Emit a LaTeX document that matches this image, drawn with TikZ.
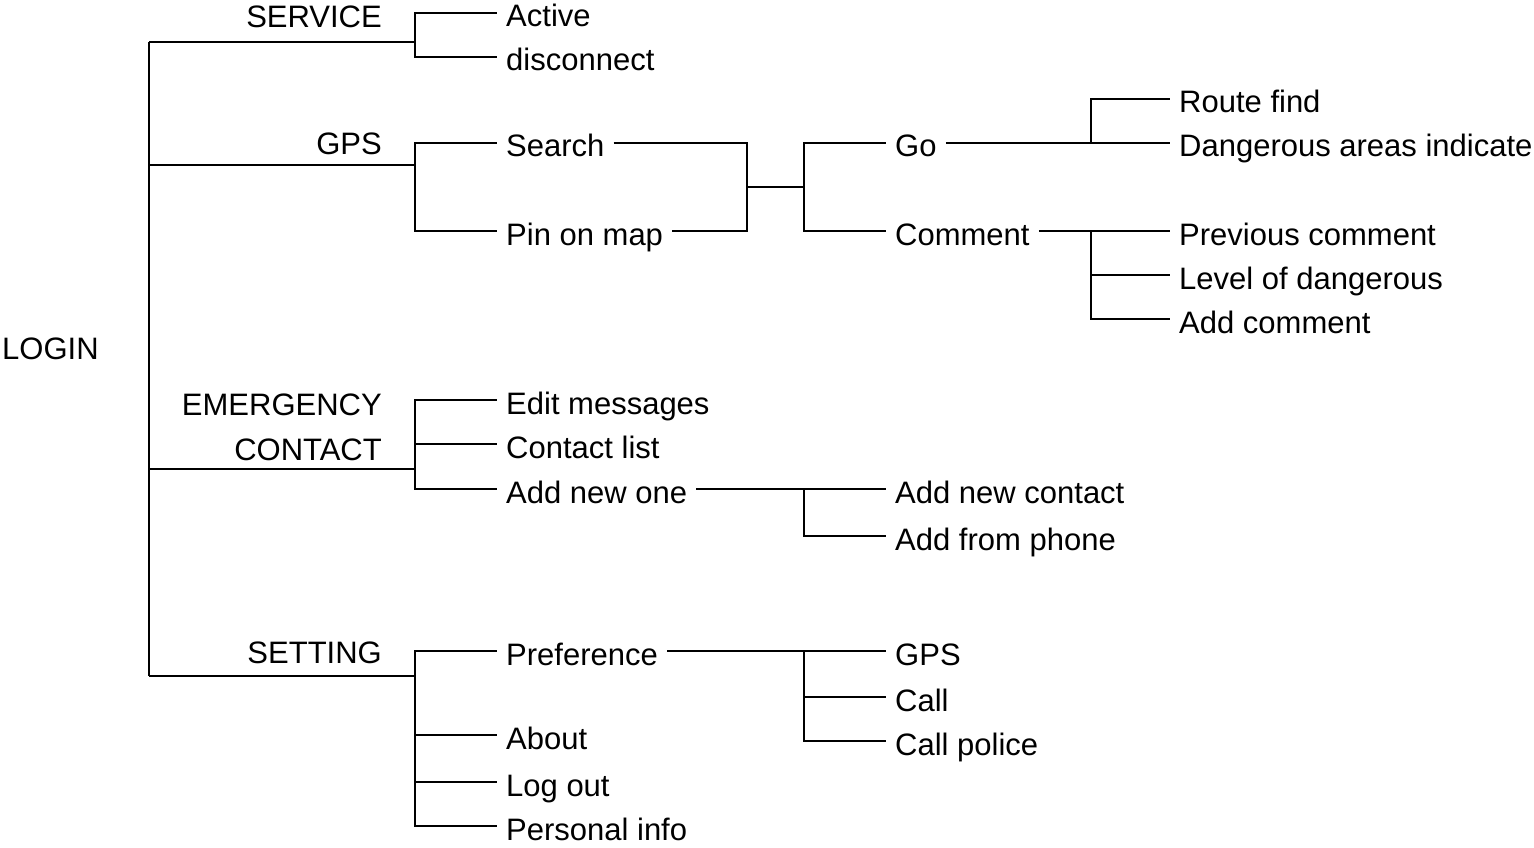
\documentclass[tikz,border=0pt]{standalone}
\usepackage{fontspec}
\setmainfont{Liberation Sans}
\usetikzlibrary{positioning, calc}
\newcommand{\menufont}{\fontsize{31}{45}\selectfont}

\begin{document}
\begin{tikzpicture}[
        x=1pt, y=-1pt,
        branch/.style={line width=1.8pt, black},
        item/.style={anchor=west, inner xsep=9pt, inner ysep=0pt,
                     text height=28pt, text depth=0pt, font=\menufont},
        head/.style={anchor=base east, inner sep=0pt, align=right, font=\menufont},
    ]
    \useasboundingbox (0,0) rectangle (1534,848);

    % ===== Root and trunk =====
    \node[anchor=base west, inner sep=0pt, font=\menufont] (LOGIN) at (2,359) {LOGIN};
    \coordinate (T1) at (149,42);
    \coordinate (T2) at (149,165);
    \coordinate (T3) at (149,469);
    \coordinate (T4) at (149,676);
    \coordinate (B1) at (415,42);
    \coordinate (B2) at (415,165);
    \coordinate (B3) at (415,469);
    \coordinate (B4) at (415,676);
    \draw[branch] (T1) -- (T4);
    \foreach \i in {1,...,4} { \draw[branch] (T\i) -- (B\i); }

    % ===== Headings =====
    \node[head] (SERV) at (382,28)  {SERVICE};
    \node[head] (GPSH) at (382,155) {GPS};
    \node[head] (EMER) at (382,460) {EMERGENCY\\CONTACT};
    \node[head] (SETT) at (382,663) {SETTING};

    % ===== SERVICE =====
    \node[item] (ACT) at (497,13) {Active};
    \node[item] (DIS) at (497,57) {disconnect};
    \foreach \n in {ACT,DIS} { \draw[branch] (B1) |- (\n.west); }

    % ===== GPS =====
    \node[item] (SRCH) at (497,143) {Search};
    \node[item] (PIN)  at (497,231) {Pin on map};
    \foreach \n in {SRCH,PIN} { \draw[branch] (B2) |- (\n.west); }

    \coordinate (J1) at (747,187);
    \coordinate (J2) at (804,187);
    \node[item] (GO)  at (886,143) {Go};
    \node[item] (COM) at (886,231) {Comment};
    \draw[branch] (SRCH.east) -| (J1);
    \draw[branch] (PIN.east) -| (J1);
    \draw[branch] (J1) -- (J2);
    \foreach \n in {GO,COM} { \draw[branch] (J2) |- (\n.west); }

    \node[item] (ROUTE) at (1170,99)  {Route find};
    \node[item] (DANG)  at (1170,143) {Dangerous areas indicate};
    \coordinate (J3) at (1091,143);
    \draw[branch] (GO.east) -- (DANG.west);
    \draw[branch] (J3) |- (ROUTE.west);

    \node[item] (PREV) at (1170,231) {Previous comment};
    \node[item] (LVL)  at (1170,275) {Level of dangerous};
    \node[item] (ADDC) at (1170,319) {Add comment};
    \coordinate (J4) at (1091,231);
    \draw[branch] (COM.east) -- (PREV.west);
    \foreach \n in {LVL,ADDC} { \draw[branch] (J4) |- (\n.west); }

    % ===== EMERGENCY CONTACT =====
    \node[item] (EDIT) at (497,400) {Edit messages};
    \node[item] (LIST) at (497,444) {Contact list};
    \node[item] (NEW)  at (497,489) {Add new one};
    \foreach \n in {EDIT,LIST,NEW} { \draw[branch] (B3) |- (\n.west); }

    \node[item] (NEWC) at (886,489) {Add new contact};
    \node[item] (PHON) at (886,536) {Add from phone};
    \coordinate (J5) at (804,489);
    \draw[branch] (NEW.east) -- (NEWC.west);
    \draw[branch] (J5) |- (PHON.west);

    % ===== SETTING =====
    \node[item] (PREF) at (497,651) {Preference};
    \node[item] (ABT)  at (497,735) {About};
    \node[item] (OUT)  at (497,782) {Log out};
    \node[item] (PERS) at (497,826) {Personal info};
    \foreach \n in {PREF,ABT,OUT,PERS} { \draw[branch] (B4) |- (\n.west); }

    \node[item] (GPSP) at (886,651) {GPS};
    \node[item] (CALL) at (886,697) {Call};
    \node[item] (POL)  at (886,741) {Call police};
    \coordinate (J6) at (804,651);
    \draw[branch] (PREF.east) -- (GPSP.west);
    \foreach \n in {CALL,POL} { \draw[branch] (J6) |- (\n.west); }

    \end{tikzpicture}
\end{document}
